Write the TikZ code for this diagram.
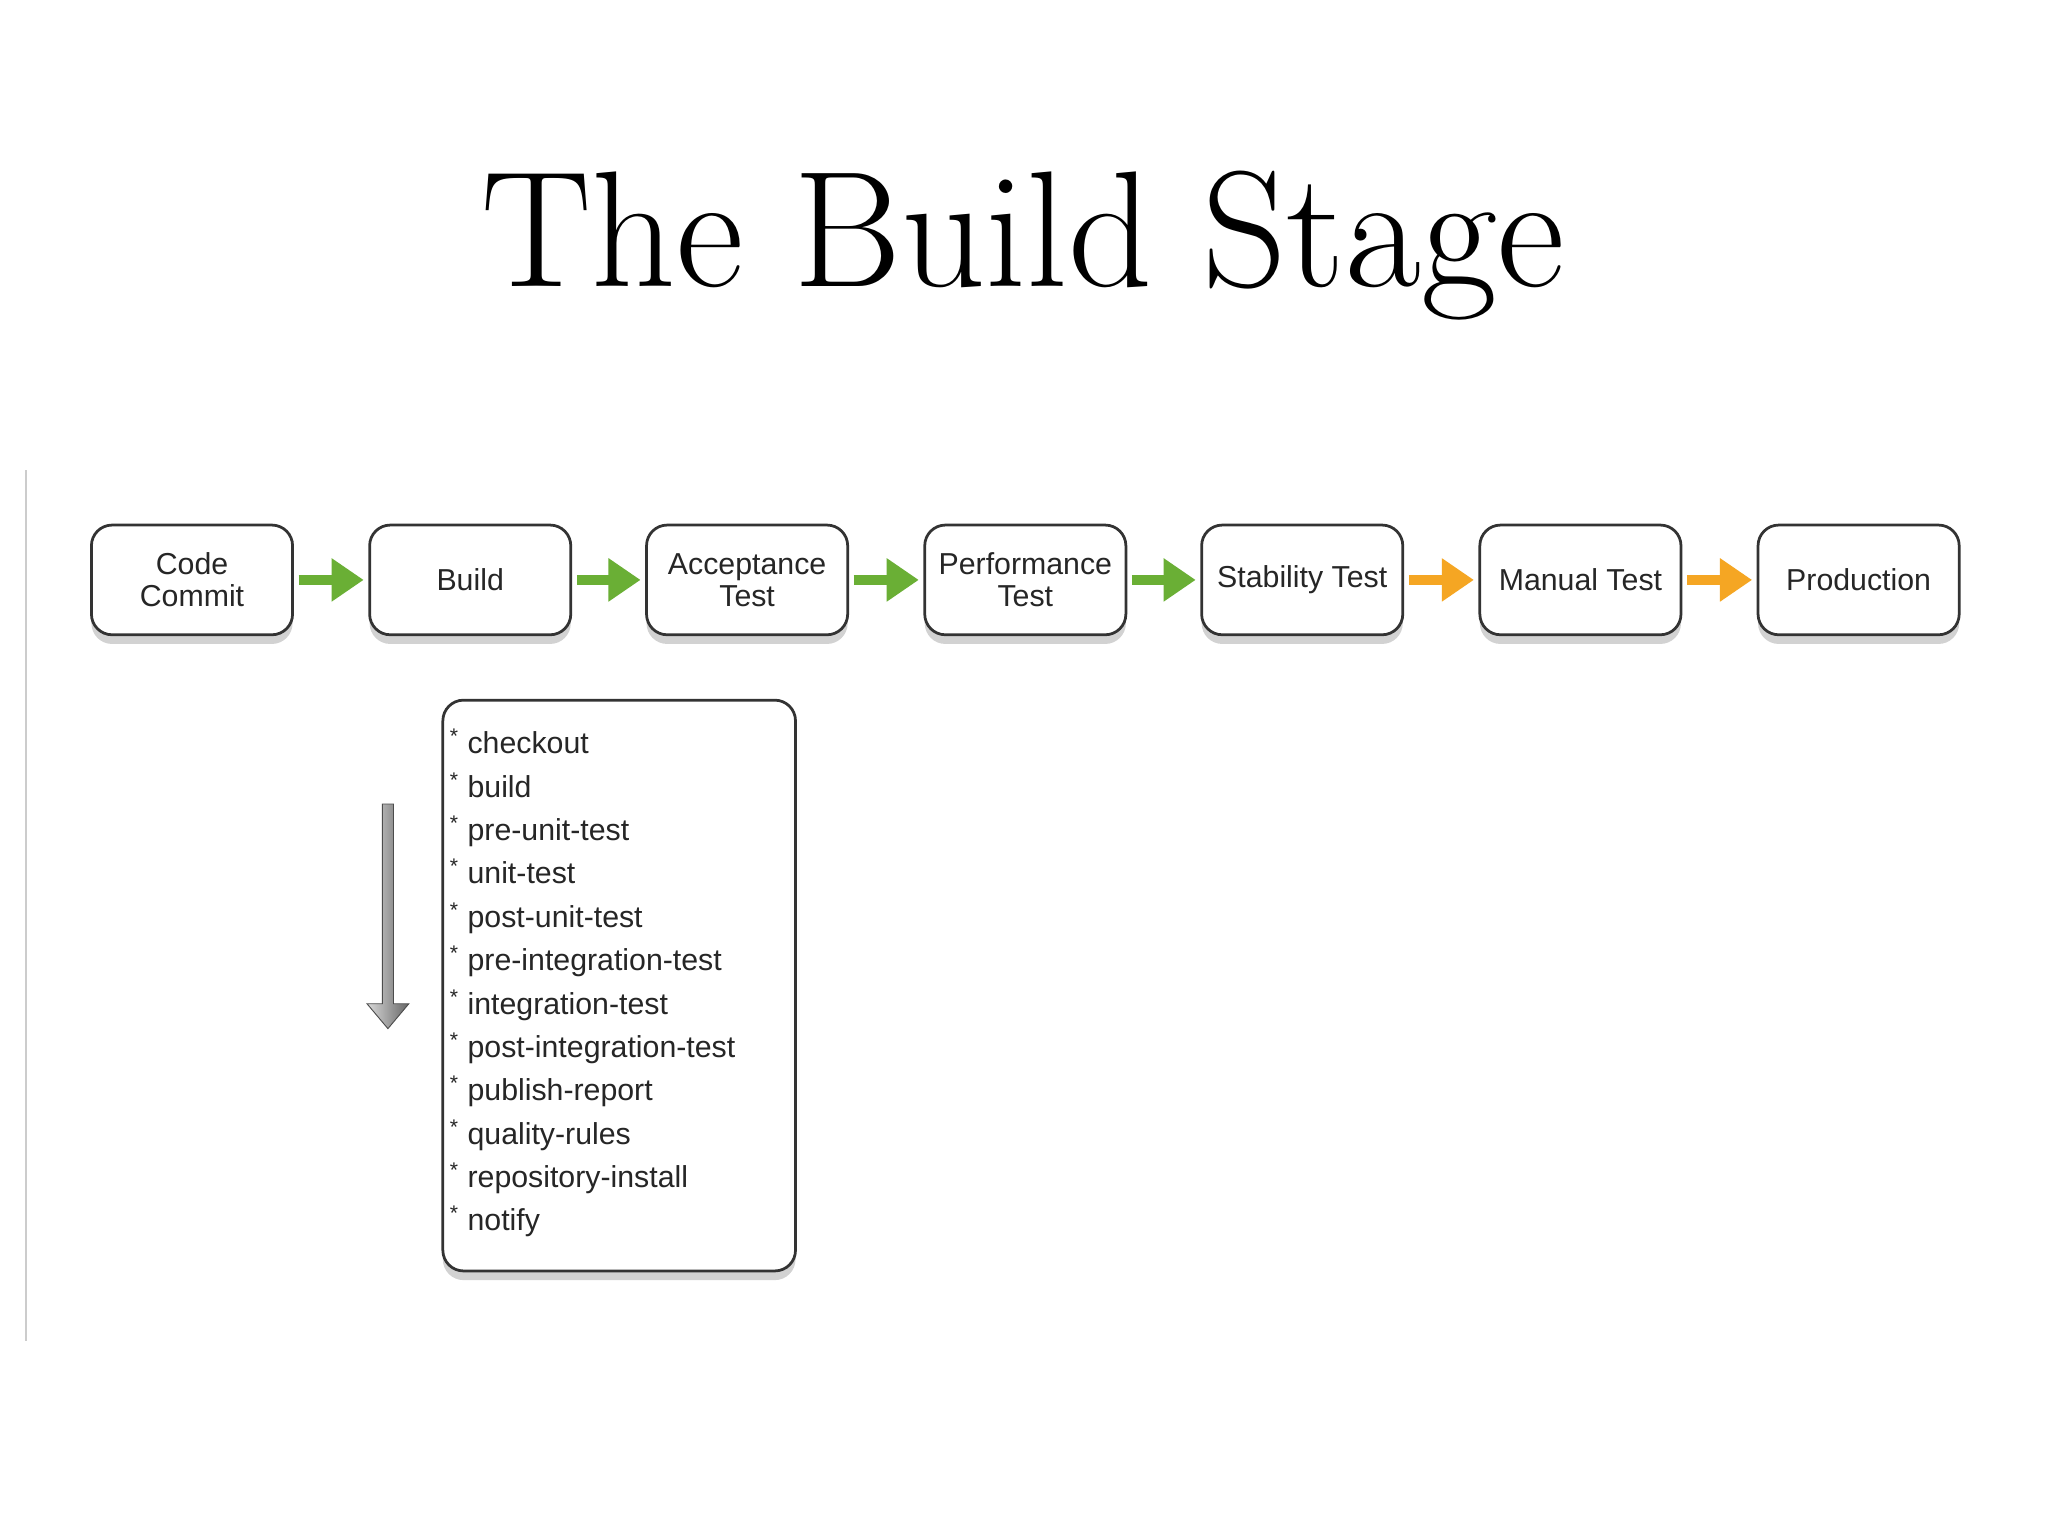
\documentclass[tikz,border=0pt]{standalone}
\usepackage{fontspec}
\setmainfont{Liberation Sans}
\newfontfamily\titlefont{Latin Modern Roman}
\usetikzlibrary{shadows,arrows.meta,shapes.arrows}
\definecolor{ggreen}{HTML}{6AAF35}
\definecolor{gorange}{HTML}{F5A623}
\begin{document}
\begin{tikzpicture}[x=0.02cm,y=-0.02cm,
  box/.style={draw=black!80,line width=1.2pt,rounded corners=9pt,fill=white,drop shadow={shadow xshift=0pt,shadow yshift=-4pt,opacity=0.35}},
  stage/.style={box,minimum width=154*0.02cm,minimum height=84*0.02cm,align=center,font=\fontsize{13.2}{14}\selectfont,text=black!85},
  garr/.style={line width=4pt,draw=#1,-{Triangle[length=14pt,width=18pt]},shorten <=2pt,shorten >=2pt}]
\useasboundingbox (0,0) rectangle (1568,1176);
\fill[white] (0,0) rectangle (1568,1176);
\draw[black!20,line width=0.8pt] (20,360) -- (20,1027);
\node[font=\titlefont\fontsize{72}{76}\selectfont] (title) at (783,188) {The Build Stage};
\node[stage] (s1) at (147,444) {Code\\Commit};
\node[stage] (s2) at (360,444) {Build};
\node[stage] (s3) at (572,444) {Acceptance\\Test};
\node[stage] (s4) at (785,444) {Performance\\Test};
\node[stage] (s5) at (997,444) {Stability Test};
\node[stage] (s6) at (1210,444) {Manual Test};
\node[stage] (s7) at (1423,444) {Production};
\draw[garr=ggreen] (s1) -- (s2);
\draw[garr=ggreen] (s2) -- (s3);
\draw[garr=ggreen] (s3) -- (s4);
\draw[garr=ggreen] (s4) -- (s5);
\draw[garr=gorange] (s5) -- (s6);
\draw[garr=gorange] (s6) -- (s7);
\node[box,minimum width=270*0.02cm,minimum height=437*0.02cm,anchor=north west] (list) at (338,535) {};
\node[anchor=north west,align=left,inner sep=0pt,font=\fontsize{13.2}{18.9}\selectfont,text=black!85] (items) at (344,558) {%
\textsuperscript{*} checkout\\
\textsuperscript{*} build\\
\textsuperscript{*} pre-unit-test\\
\textsuperscript{*} unit-test\\
\textsuperscript{*} post-unit-test\\
\textsuperscript{*} pre-integration-test\\
\textsuperscript{*} integration-test\\
\textsuperscript{*} post-integration-test\\
\textsuperscript{*} publish-report\\
\textsuperscript{*} quality-rules\\
\textsuperscript{*} repository-install\\
\textsuperscript{*} notify};
\node[single arrow,shape border rotate=270,draw=black!70,left color=black!15,right color=black!60,minimum height=172*0.02cm,minimum width=32*0.02cm,single arrow head extend=6pt,single arrow tip angle=80,inner sep=2pt] (down) at (297,699) {};
\end{tikzpicture}
\end{document}
